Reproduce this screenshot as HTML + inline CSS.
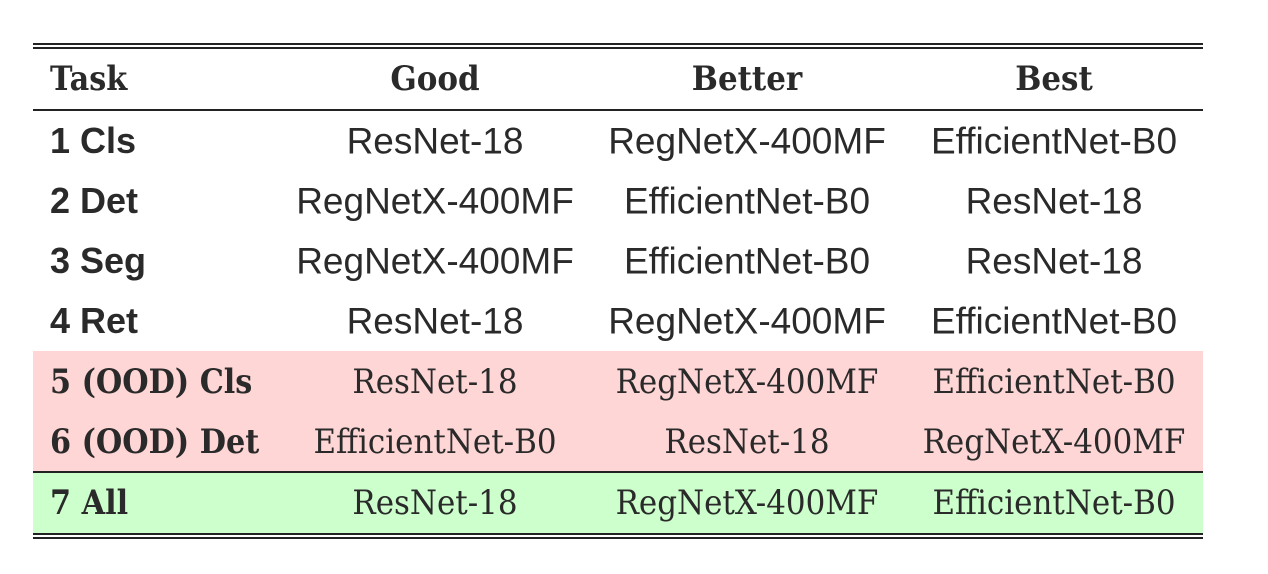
<!DOCTYPE html>
<html><head><style>
body{margin:0;width:1268px;height:574px;background:#fff;position:relative;overflow:hidden;color:#2a2a2a}
.l{position:absolute;left:33px;width:1170px;background:#222}
.bg{position:absolute;left:33px;width:1170px}
.t{position:absolute;white-space:nowrap;line-height:1;transform:translate(-50%,-50%)}
.s{font-family:"Liberation Sans","Noto Sans CJK JP",sans-serif;font-size:37px}
.f{font-family:"DejaVu Serif","Liberation Serif",serif;font-size:34px}
.t.f{transform:translate(-50%,-50%) scaleX(0.91)}
.k{position:absolute;left:50px;white-space:nowrap;line-height:1;transform:translateY(-50%);font-weight:bold}
.k.s{font-size:36px}
.k.f{transform:translateY(-50%) scaleX(0.89);transform-origin:left center}
</style></head><body>
<div class="bg" style="top:351px;height:120px;background:#ffd6d6"></div>
<div class="bg" style="top:473px;height:60px;background:#ccffcc"></div>
<div class="l" style="top:43px;height:2px"></div>
<div class="l" style="top:47px;height:2px"></div>
<div class="l" style="top:109px;height:2px"></div>
<div class="l" style="top:471px;height:2px"></div>
<div class="l" style="top:533px;height:2px"></div>
<div class="l" style="top:537px;height:2px"></div>

<div class="k f" style="top:79px">Task</div>
<div class="t f" style="left:435px;top:79px;font-weight:bold">Good</div>
<div class="t f" style="left:747px;top:79px;font-weight:bold">Better</div>
<div class="t f" style="left:1054px;top:79px;font-weight:bold">Best</div>

<div class="k s" style="top:141px">1 Cls</div>
<div class="t s" style="left:435px;top:141px">ResNet-18</div>
<div class="t s" style="left:747px;top:141px">RegNetX-400MF</div>
<div class="t s" style="left:1054px;top:141px">EfficientNet-B0</div>

<div class="k s" style="top:201px">2 Det</div>
<div class="t s" style="left:435px;top:201px">RegNetX-400MF</div>
<div class="t s" style="left:747px;top:201px">EfficientNet-B0</div>
<div class="t s" style="left:1054px;top:201px">ResNet-18</div>

<div class="k s" style="top:261px">3 Seg</div>
<div class="t s" style="left:435px;top:261px">RegNetX-400MF</div>
<div class="t s" style="left:747px;top:261px">EfficientNet-B0</div>
<div class="t s" style="left:1054px;top:261px">ResNet-18</div>

<div class="k s" style="top:321px">4 Ret</div>
<div class="t s" style="left:435px;top:321px">ResNet-18</div>
<div class="t s" style="left:747px;top:321px">RegNetX-400MF</div>
<div class="t s" style="left:1054px;top:321px">EfficientNet-B0</div>

<div class="k f" style="top:382px">5 (OOD) Cls</div>
<div class="t f" style="left:435px;top:382px">ResNet-18</div>
<div class="t f" style="left:747px;top:382px">RegNetX-400MF</div>
<div class="t f" style="left:1054px;top:382px">EfficientNet-B0</div>

<div class="k f" style="top:442px">6 (OOD) Det</div>
<div class="t f" style="left:435px;top:442px">EfficientNet-B0</div>
<div class="t f" style="left:747px;top:442px">ResNet-18</div>
<div class="t f" style="left:1054px;top:442px">RegNetX-400MF</div>

<div class="k f" style="top:503px">7 All</div>
<div class="t f" style="left:435px;top:503px">ResNet-18</div>
<div class="t f" style="left:747px;top:503px">RegNetX-400MF</div>
<div class="t f" style="left:1054px;top:503px">EfficientNet-B0</div>
</body></html>
